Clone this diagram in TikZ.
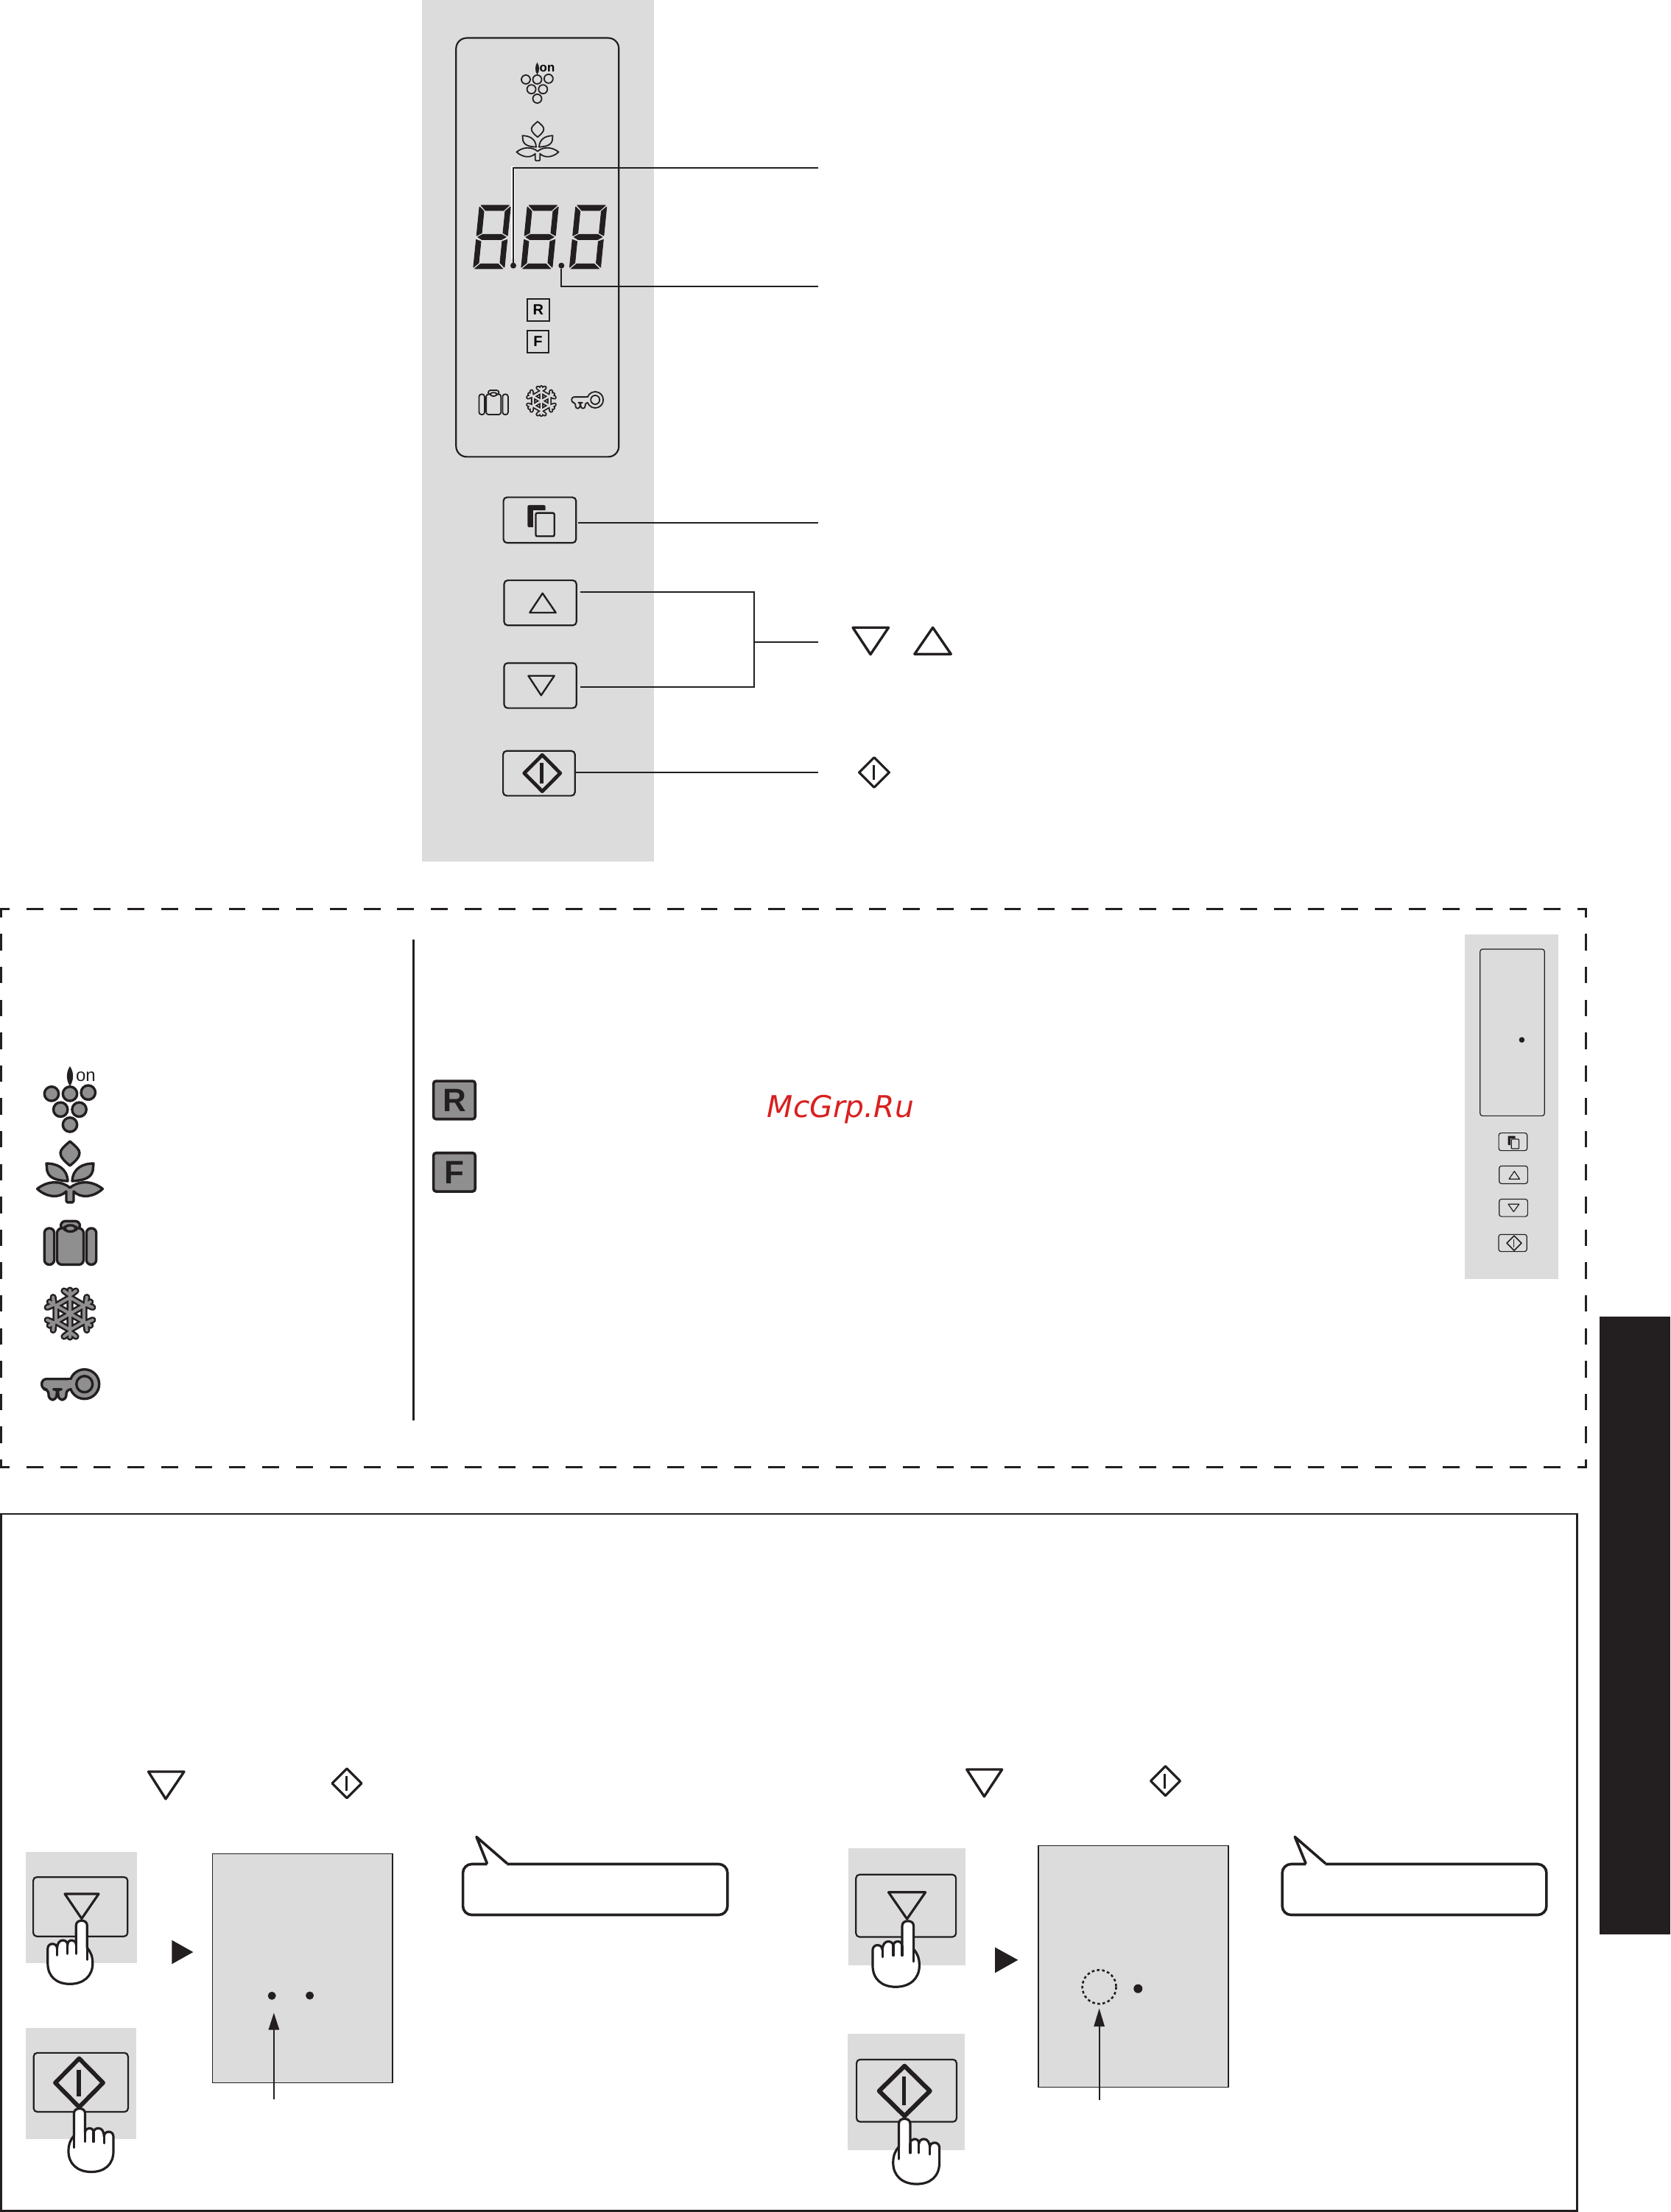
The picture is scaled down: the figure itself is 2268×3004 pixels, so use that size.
\documentclass[tikz,border=0pt]{standalone}
\usepackage{fontspec}
\setmainfont{Liberation Sans}
\newfontfamily\wmfont{DejaVu Sans}
\usetikzlibrary{arrows.meta,shapes.geometric}
\definecolor{dk}{HTML}{231F20}
\definecolor{pg}{HTML}{DCDCDC}
\definecolor{icg}{HTML}{8F8F8F}
\definecolor{wm}{HTML}{D9201F}
\tikzset{
  px/.style 2 args={minimum width=(#1-2.2)*0.25pt,minimum height=(#2-2.2)*0.25pt},
  btn/.style={draw=dk,rounded corners=1.2pt,line width=.55pt,inner sep=0pt,outer sep=0pt},
  btnsm/.style={draw=dk,rounded corners=.8pt,line width=.3pt,inner sep=0pt,outer sep=0pt},
  lead/.style={draw=dk,line width=.55pt},
  sym/.style={draw=dk,line join=round,line cap=round},
  dotn/.style={circle,fill=dk,inner sep=0pt,outer sep=0pt},
  sfr/.style={draw=dk,line width=.5pt,inner sep=0pt,outer sep=0pt,font=\bfseries\fontsize{5}{5}\selectfont},
  bfr/.style={draw=dk,fill=icg,line width=.9pt,rounded corners=.9pt,inner sep=0pt,outer sep=0pt,text=dk,font=\bfseries\fontsize{11}{12}\selectfont},
  hnd/.style={draw=dk,fill=white,line width=.8pt,line join=round,line cap=round},
  callout/.style={draw=dk,fill=white,line width=.9pt,rounded corners=3pt,inner sep=0pt,outer sep=0pt},
  icbig/.style={ic/.style={draw=dk,fill=icg,line width=.85pt,line join=round},icr/.style={rounded corners=1.6pt},icd/.style={fill=dk}},
  icsm/.style={ic/.style={draw=dk,fill=pg,line width=.45pt,line join=round},icr/.style={rounded corners=.8pt},icd/.style={fill=dk}},
}
\newcommand\mytri[6]{\draw[sym,line width=#6] (#1,#3) -- (#2,#3) -- (#4,#5) -- cycle;}
\newcommand\mydia[7]{%
  \draw[sym,line width=#5] ({#1-#3},#2) -- (#1,{#2-#4}) -- ({#1+#3},#2) -- (#1,{#2+#4}) -- cycle;
  \draw[dk,line width=#7] ({#1-.7},{#2-#6}) -- ({#1-.7},{#2+#6});}
\newcommand\mycopy[5]{%
  \begin{scope}[shift={(#1,#2)},scale=#3]
    \fill[dk,rounded corners=#5] (0,0) rectangle (24.2,30);
    \fill[pg] (7.6,7.3) rectangle (26,32);
    \draw[dk,fill=pg,line width=#4,rounded corners=#5] (11.1,10.7) rectangle (36.3,42.3);
  \end{scope}}
\newcommand\myhand[4]{%
  \begin{scope}[shift={(#1,#2)},xscale=#3*#4,yscale=#4]
    \draw[hnd] (-7.5,33) -- (-7.5,6.5) .. controls (-7.5,2) and (-4,0) .. (0,0) .. controls (4,0) and (7.5,2) .. (7.5,6.5) -- (7.5,36.7) .. controls (12,42) and (15,48) .. (15,58) .. controls (15,75) and (3,86) .. (-16,86) .. controls (-34,86) and (-46,76) .. (-46,58) -- (-46,38) .. controls (-46,34) and (-43,31.5) .. (-39.8,31.5) .. controls (-36,31.5) and (-33.3,34) .. (-33.3,38) .. controls (-33.3,31) and (-30,26.7) .. (-25.8,26.7) .. controls (-22,26.7) and (-19,29) .. (-19,33) .. controls (-19,29) and (-17,26.7) .. (-13,26.7) .. controls (-10,26.7) and (-7.5,29) .. (-7.5,33);
    \draw[hnd,fill=none] (-33.3,38) -- (-33.3,47) (-19,33) -- (-19,45) (-7.5,33) -- (-7.5,45) (7.5,36) -- (7.5,53);
  \end{scope}}
\newcommand\mygrapes[4]{% x y scale icstyle
  \begin{scope}[shift={(#1,#2)},scale=#3,#4]
    \foreach \gx/\gy in {-25/-14.6,0/-14.6,24.8/-16.3,-12.8/6.8,12.6/6.8,0/27.4}
      \draw[ic] (\gx,\gy) circle [radius=9.7];
    \fill[icd] (0,-52) .. controls (-5.5,-44) and (-5.5,-33) .. (0,-25) .. controls (5.5,-33) and (5.5,-44) .. (0,-52) -- cycle;
  \end{scope}}
\newcommand\myleaf[4]{%
  \begin{scope}[shift={(#1,#2)},scale=#3,#4]
    \draw[ic] (0,-40) .. controls (-8,-33) and (-13,-29) .. (-13,-24) .. controls (-13,-18) and (-6,-12) .. (0,-7) .. controls (6,-12) and (13,-18) .. (13,-24) .. controls (13,-29) and (8,-33) .. (0,-40) -- cycle;
    \draw[ic] (-32,-10) .. controls (-18,-10) and (-4,-4) .. (-3,14) .. controls (-14,13) and (-28,12) .. (-31,0) -- cycle;
    \draw[ic] (32,-10) .. controls (18,-10) and (4,-4) .. (3,14) .. controls (14,13) and (28,12) .. (31,0) -- cycle;
    \draw[ic] (-44.4,24.5) .. controls (-30,13) and (-12,13) .. (0,23) .. controls (12,13) and (30,13) .. (44.4,24.5) .. controls (32,36) and (15,38) .. (5,28) -- (5,41) -- (3.5,42.8) -- (-3.5,42.8) -- (-5,41) -- (-5,28) .. controls (-15,38) and (-32,36) .. (-44.4,24.5) -- cycle;
  \end{scope}}
\newcommand\mycase[4]{%
  \begin{scope}[shift={(#1,#2)},scale=#3,#4]
    \draw[ic,icr] (-13,-18) -- (-13,-29.7) -- (13,-29.7) -- (13,-18) -- cycle;
    \draw[ic,icr] (-18,-20) rectangle (18,29.4);
    \draw[ic,icr] (-8,-24) rectangle (8,-15.6);
    \draw[ic,icr] (-21.8,-20) -- (-35.2,-20) -- (-35.2,29.4) -- (-21.8,29.4) -- cycle;
    \draw[ic,icr] (21.8,-20) -- (35.2,-20) -- (35.2,29.4) -- (21.8,29.4) -- cycle;
  \end{scope}}
\newcommand\myflake[6]{% x y scale widthOuter widthInner colorInner
  \begin{scope}[shift={(#1,#2)},scale=#3]
    \foreach \col/\wd in {dk/#4,#6/#5}{
      \foreach \a in {0,60,...,300}{
        \begin{scope}[rotate=\a]
          \draw[color=\col,line width=\wd,line cap=round,line join=round]
            (0,0) -- (0,-32) (0,-22) -- (19,-11) (0,-25) -- (-8,-31) (0,-25) -- (8,-31);
        \end{scope}
      }
    }
  \end{scope}}
\newcommand\mykey[4]{%
  \begin{scope}[shift={(#1,#2)},scale=#3,#4]
    \draw[ic] (0,0) circle [radius=20];
    \draw[ic,icr] (-17,-7) -- (-58,-7) -- (-58,7) -- (-48.7,7) -- (-48.7,21.3) -- (-37.7,21.3) -- (-37.7,7) -- (-35.7,7) -- (-35.7,21.3) -- (-24.7,21.3) -- (-24.7,7) -- (-17,7);
    \fill[icf] (-22,-5.6) rectangle (-14,5.6);
    \draw[ic] (0,0) circle [radius=11];
  \end{scope}}
\tikzset{icf/.style={fill=icg}}
\newcommand\myseg[2]{%
  \begin{scope}[shift={(#1,#2)},xslant=.1]
    \begin{scope}[yshift=21.5pt]
    \foreach \p in {
      {(2,0)--(40,0)--(33,7)--(9,7)},
      {(0,2)--(6.5,8)--(6.5,37.5)--(0,41)},
      {(42,2)--(35.5,8)--(35.5,37.5)--(42,41)},
      {(2,43)--(8,39.5)--(34,39.5)--(40,43)--(34,46.5)--(8,46.5)},
      {(0,46.5)--(6.5,49)--(6.5,78)--(0,84)},
      {(42,46.5)--(35.5,49)--(35.5,78)--(42,84)},
      {(2,86)--(9,79.5)--(33,79.5)--(40,86)}}
      {\draw[dk,fill=dk,line width=.25pt,line join=round] \p -- cycle;}
    \end{scope}
  \end{scope}}
\begin{document}
\begin{tikzpicture}[x=0.25pt,y=-0.25pt]
\useasboundingbox (0,0) rectangle (2268,3004);
\fill[white] (0,0) rectangle (2268,3004);
% --- top panel
\fill[pg] (573,0) rectangle (888,1170);
\node[btn,px={223.2}{571},rounded corners=3.6pt] (disp) at (729.8,336) {};
\mygrapes{729.5}{117}{.62}{icsm}
\node[font=\bfseries\fontsize{4.2}{5}\selectfont,inner sep=0pt] (onS) at (743,93.4) {on};
\tikzset{icf/.style={fill=pg}}
\myleaf{730}{190.7}{.643}{icsm}
\myseg{642.7}{365}
\myseg{707.7}{365}
\myseg{773.3}{365}
\node[dotn,minimum size=8*0.25pt] (dotA) at (697,360.7) {};
\node[dotn,minimum size=8*0.25pt] (dotB) at (762.3,360.7) {};
\coordinate (endA) at (1111,227.7);
\coordinate (endB) at (1111,389.3);
\draw[white,line width=1.2pt] (696.6,352) -- (696.6,226);
\draw[lead] (dotA.north) |- (endA);
\draw[lead] (dotB.south) |- (endB);
\node[sfr,px={32}{31.6}] (rS) at (730.9,421) {R};
\node[sfr,px={32}{32.4}] (fS) at (730.5,464) {F};
\mycase{670.2}{546.6}{.56}{icsm}
\myflake{735}{544.6}{.58}{1.5pt}{.6pt}{pg}
\mykey{808.2}{543}{.55}{icsm}
% buttons
\node[btn,px={100.8}{64}] (bMode) at (732.9,706.3) {};
\mycopy{716.4}{686}{1}{.6pt}{.5pt}
\node[btn,px={100.4}{63.3}] (bUp) at (733.6,818.7) {};
\mytri{719.3}{754.7}{832}{736.7}{805.7}{.6pt}
\node[btn,px={100.4}{63.4}] (bDown) at (733.6,931) {};
\mytri{717.4}{752.7}{917.7}{734.8}{944.3}{.6pt}
\node[btn,px={99.8}{63}] (bStart) at (731.9,1050.2) {};
\mydia{736.3}{1050}{24.5}{24.7}{1.2pt}{13.7}{1.25pt}
\coordinate (endMode) at (1110.5,710.3);
\coordinate (endTee) at (1111.4,872.3);
\coordinate (endStart) at (1110.5,1048.7);
\coordinate (tee) at (1024.2,872.3);
\draw[lead] ([xshift=.6pt]bMode.east |- endMode) -- (endMode);
\draw[lead] ([xshift=1.2pt]bUp.east |- 0,804.3) -| (tee);
\draw[lead] ([xshift=1.2pt]bDown.east |- 0,932.7) -| (tee);
\draw[lead] (tee) -- (endTee);
\draw[lead] (bStart.east |- endStart) -- (endStart);
\mytri{1158}{1206.5}{852.3}{1182}{888.7}{.85pt}
\mytri{1241.8}{1291.3}{888.3}{1266.6}{852.3}{.85pt}
\mydia{1187}{1049}{20.4}{20.3}{.8pt}{10}{.8pt}
% --- dashed box
\foreach \yy in {1234.7,1992.3}
  \draw[dk,line width=.75pt,dash pattern=on 5.72pt off 5.725pt,dash phase=2.47pt] (0,\yy) -- (2155.2,\yy);
\foreach \xx in {1.5,2153.7}
  \draw[dk,line width=.75pt,dash pattern=on 5.6pt off 5.55pt,dash phase=2.35pt] (\xx,1233.2) -- (\xx,1993.8);
\draw[dk,line width=.75pt] (561,1276) -- (561,1928.6);
\tikzset{icf/.style={fill=icg}}
\mygrapes{95}{1500}{1}{icbig}
\node[font=\fontsize{6}{7}\selectfont,inner sep=0pt,text=dk] (onB) at (116.5,1462.5) {on};
\myleaf{95}{1590}{1}{icbig}
\mycase{95.5}{1688}{1}{icbig}
\myflake{95}{1784}{1}{2.3pt}{1pt}{icg}
\mykey{114.7}{1879.7}{1}{icbig}
\node[bfr,px={58.8}{53.9}] (rB) at (616.9,1493.9) {R};
\node[bfr,px={58.8}{54.5}] (fB) at (616.9,1591.9) {F};
\node[inner sep=0pt,text=wm,font=\wmfont\itshape\fontsize{10.2}{12}\selectfont,anchor=base west] (wmk) at (1041,1517.3) {McGrp.Ru};
% small panel
\fill[pg] (1989,1269) rectangle (2116,1737);
\node[btnsm,px={89.6}{228.5}] (sDisp) at (2053.5,1402.2) {};
\node[dotn,minimum size=7.6*0.25pt] (sDot) at (2066.4,1412.2) {};
\node[btnsm,px={40.8}{26.2}] (sMode) at (2054.4,1550.6) {};
\mycopy{2047.6}{1542.7}{.41}{.3pt}{.2pt}
\node[btnsm,px={40.9}{26.2}] (sUp) at (2055,1595.4) {};
\mytri{2049}{2063.4}{1601.2}{2056.3}{1590.6}{.3pt}
\node[btnsm,px={40.9}{25.8}] (sDown) at (2055,1640.3) {};
\mytri{2048}{2062.7}{1635.3}{2055.3}{1645.6}{.3pt}
\node[btnsm,px={40.6}{25.4}] (sStart) at (2054.1,1688) {};
\mydia{2056}{1688.3}{10}{10}{.4pt}{5.5}{.4pt}
% tab
\fill[dk] (2172,1788) rectangle (2268,2626.7);
% --- lower box
\draw[dk,line width=.7pt] (1.3,2056) rectangle (2141.8,3002.8);
% left procedure
\mytri{201.5}{250}{2406}{225}{2443}{.85pt}
\mydia{471}{2421.8}{20}{20}{.8pt}{10}{.8pt}
\fill[pg] (35,2515) rectangle (186,2665.7);
\node[btn,px={130.4}{82.7}] (aDown) at (109.2,2589.4) {};
\mytri{88}{134}{2572}{110.9}{2605.6}{.8pt}
\myhand{110.8}{2608.3}{1}{1}
\fill[dk] (233.3,2634.7) -- (262.3,2651) -- (233.3,2667.3) -- cycle;
\node[draw=dk,fill=pg,line width=.3pt,inner sep=0pt,outer sep=0pt,px={246.6}{313.2}] (aPanel) at (410.7,2673.1) {};
\node[dotn,minimum size=11*0.25pt] (aDot1) at (369.2,2710.3) {};
\node[dotn,minimum size=11*0.25pt] (aDot2) at (420.6,2710) {};
\coordinate (aArrS) at (371.9,2850.7);
\coordinate (aArrE) at (371.9,2733.4);
\draw[dk,line width=.45pt,-{Triangle[width=3.6pt,length=5.8pt]}] (aArrS) -- (aArrE);
\fill[pg] (34.5,2754) rectangle (185.3,2904.5);
\node[btn,px={130.4}{82.3}] (aStart) at (109.8,2827.9) {};
\mydia{107.5}{2828.5}{32.5}{33}{1.45pt}{18}{1.4pt}
\myhand{108}{2863.5}{-1}{1}
\node[callout,px={361.5}{71.2}] (calA) at (808.2,2566) {};
\coordinate (calAl) at (661.3,2530.4);
\coordinate (calAt) at (647,2494.6);
\coordinate (calAr) at (688.3,2530.4);
\fill[white] (calAl) -- (calAt) -- (calAr) -- ++(0,6) -- ++(-27,0) -- cycle;
\draw[sym,line width=.9pt] (calAl) -- (calAt) -- (calAr);
% right procedure
\mytri{1312.7}{1360.7}{2403}{1336.4}{2439.7}{.85pt}
\mydia{1582.5}{2418.6}{20}{20}{.8pt}{10}{.8pt}
\fill[pg] (1151.8,2510) rectangle (1311.3,2669);
\node[btn,px={138}{86.8}] (bbDown) at (1230.2,2588.1) {};
\mytri{1206.5}{1256.6}{2569.8}{1231.6}{2606}{.8pt}
\myhand{1232.8}{2608.8}{1}{1.04}
\fill[dk] (1351.2,2644.6) -- (1382.3,2661.7) -- (1351.2,2679.2) -- cycle;
\node[draw=dk,fill=pg,line width=.45pt,inner sep=0pt,outer sep=0pt,px={260.3}{330.3}] (bPanel) at (1538.9,2670.5) {};
\draw[dk,line width=.65pt,dash pattern=on .9pt off .85pt] (1492.6,2698.3) circle [radius=23];
\node[dotn,minimum size=12*0.25pt] (bDot) at (1545.3,2700.7) {};
\coordinate (bArrS) at (1492.6,2851.5);
\coordinate (bArrE) at (1492.6,2727.4);
\draw[dk,line width=.45pt,-{Triangle[width=3.6pt,length=6.2pt]}] (bArrS) -- (bArrE);
\fill[pg] (1151,2762) rectangle (1310,2920);
\node[btn,px={138}{86.8}] (bStart2) at (1231,2839.2) {};
\mydia{1228.2}{2839.6}{34.5}{34}{1.5pt}{19.5}{1.4pt}
\myhand{1228.2}{2877.4}{-1}{1.03}
\node[callout,px={361}{71.2}] (calB) at (1920.5,2566) {};
\coordinate (calBl) at (1773,2530.4);
\coordinate (calBt) at (1758.3,2494.6);
\coordinate (calBr) at (1799.5,2530.4);
\fill[white] (calBl) -- (calBt) -- (calBr) -- ++(0,6) -- ++(-26.5,0) -- cycle;
\draw[sym,line width=.9pt] (calBl) -- (calBt) -- (calBr);
\end{tikzpicture}
\end{document}
